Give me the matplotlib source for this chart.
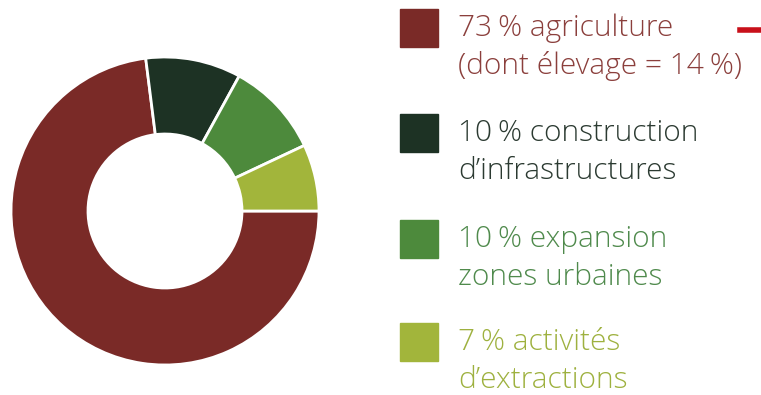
import matplotlib.pyplot as plt

labels_l1 = ["73\u202f% agriculture", "10\u202f% construction", "10\u202f% expansion", "7\u202f% activités"]
labels_l2 = ["(dont élevage = 14\u202f%)", "d\u2019infrastructures", "zones urbaines", "d\u2019extractions"]
values = [73, 10, 10, 7]
colors = ["#7a2a27", "#1d3224", "#4d8a3c", "#a2b53b"]
text_colors = ["#8b3f3c", "#2b3a31", "#4f8a4c", "#9eb13f"]

plt.rcParams['font.family'] = ['Open Sans', 'DejaVu Sans']

W, H = 761, 395
fig = plt.figure(figsize=(W / 100, H / 100), dpi=100)

# donut
cx, cy, r = 165, 211, 154
ax = fig.add_axes([(cx - r) / W, (H - cy - r) / H, 2 * r / W, 2 * r / H])
ax.pie(values, colors=colors, startangle=0, counterclock=False,
       wedgeprops=dict(width=0.5, edgecolor="white", linewidth=2))
ax.set_xlim(-1, 1)
ax.set_ylim(-1, 1)
ax.set_aspect("equal")

# legend
sq_top = [9, 114, 220, 323]
sq = 38
for i in range(4):
    fig.patches.append(plt.Rectangle((400 / W, (H - sq_top[i] - sq) / H), sq / W, sq / H,
                                     transform=fig.transFigure, color=colors[i]))
    base = sq_top[i] + 27
    fig.text(458 / W, (H - base) / H, labels_l1[i], color=text_colors[i],
             fontsize=21.5, fontweight="light", va="baseline", ha="left")
    fig.text(458 / W, (H - base - 38) / H, labels_l2[i], color=text_colors[i],
             fontsize=21.5, fontweight="light", va="baseline", ha="left")

# small red mark at top right
fig.add_artist(plt.Line2D([740 / W, 1.0], [(H - 30) / H] * 2, color="#c8101a", linewidth=4))

fig.savefig("out.png", dpi=100, facecolor="white")
